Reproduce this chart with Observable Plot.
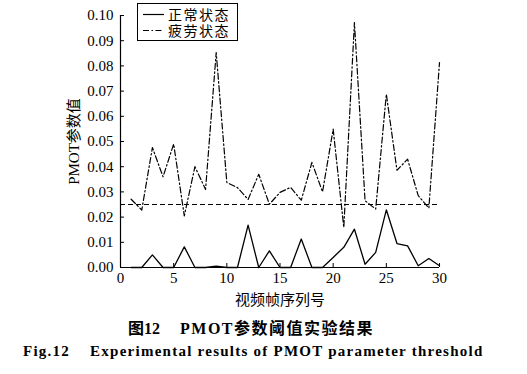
<!DOCTYPE html>
<html><head><meta charset="utf-8">
<script src="https://cdn.jsdelivr.net/npm/d3@7"></script>
<script src="https://cdn.jsdelivr.net/npm/@observablehq/plot@0.6"></script>
<style>
body{margin:0;background:#fff;width:527px;height:374px;position:relative;overflow:hidden}
#chart{position:absolute;left:0;top:0}
#chart svg, #chart svg text{font-family:"Liberation Serif","Noto Sans CJK SC",serif !important}
.legend{position:absolute;left:137px;top:3px;width:101px;height:38px;border:1px solid #000;box-sizing:border-box;background:#fff}
.legend svg{position:absolute;left:0;top:0}
.lt{position:absolute;left:30px;font:14px "Noto Sans CJK SC",sans-serif;line-height:14px;letter-spacing:1.5px;color:#000}
.cap{position:absolute;white-space:nowrap;color:#000;font-weight:bold;font-family:"Liberation Serif","Noto Sans CJK SC",serif}
</style></head>
<body>
<div id="chart"></div>
<div class="legend">
  <svg width="100" height="38">
    <line x1="5" x2="26" y1="10.5" y2="10.5" stroke="#000" stroke-width="1.2"></line>
    <line x1="5" x2="26" y1="26.5" y2="26.5" stroke="#000" stroke-width="1.2" stroke-dasharray="6,2.5,1.5,2.5"></line>
  </svg>
  <div class="lt" id="l1" style="top:3px"></div>
  <div class="lt" id="l2" style="top:19px"></div>
</div>
<div class="cap" id="cap1" style="left:128px;top:315px;font-size:16px"></div>
<div class="cap" id="cap2" style="left:23px;top:343px;font-size:15px;letter-spacing:1.25px"></div>
<script>
const frames = [1,2,3,4,5,6,7,8,9,10,11,12,13,14,15,16,17,18,19,20,21,22,23,24,25,26,27,28,29,30];
const normal = [0,0,0.005,0,0,0.0082,0,0,0.0005,0,0,0.0168,0,0.0066,0,0,0.0113,0,0,0.004,0.008,0.0152,0.0013,0.006,0.0229,0.0095,0.0086,0.0007,0.0036,0.0007];
const fatigue = [0.0271,0.0228,0.0476,0.036,0.049,0.0205,0.040,0.031,0.0853,0.0337,0.0317,0.027,0.037,0.0251,0.0298,0.0318,0.0267,0.0417,0.030,0.0549,0.0159,0.0972,0.0265,0.0232,0.0688,0.0386,0.043,0.0285,0.0236,0.0813];
const threshold = 0.025;
const seriesNames = ["正常状态","疲劳状态"];
const xTicks = [0,5,10,15,20,25,30];
const yTicks = [0,0.01,0.02,0.03,0.04,0.05,0.06,0.07,0.08,0.09,0.10];
const xLabel = "视频帧序列号";
const yLabel = "PMOT参数值";
const caption1a = "图12";
const caption1b = "PMOT参数阈值实验结果";
const caption2a = "Fig.12";
const caption2b = "Experimental results of PMOT parameter threshold";

const normalData = frames.map((f,i)=>({x:f,y:normal[i]}));
const fatigueData = frames.map((f,i)=>({x:f,y:fatigue[i]}));

const chart = Plot.plot({
  width:527, height:310,
  marginLeft:120, marginRight:88, marginTop:15, marginBottom:43,
  style:{fontFamily:'"Liberation Serif","Noto Sans CJK SC",serif', fontSize:"15px", color:"#000", background:"#fff"},
  x:{domain:[0,30]},
  y:{domain:[0,0.1]},
  marks:[
    Plot.axisY({ticks:yTicks, tickFormat:d=>d.toFixed(2), tickSize:-4, tickPadding:11, label:yLabel, labelAnchor:"center", labelOffset:52, labelArrow:"none", fontSize:15}),
    Plot.axisX({ticks:xTicks, tickSize:-4, tickPadding:9, label:xLabel, labelAnchor:"center", labelOffset:37, labelArrow:"none", fontSize:15}),
    Plot.ruleX([0],{stroke:"#000", strokeWidth:1.2}),
    Plot.ruleY([0],{stroke:"#000", strokeWidth:1.2}),
    Plot.ruleY([threshold],{x1:0, x2:30, stroke:"#000", strokeWidth:1.2, strokeDasharray:"5,3"}),
    Plot.line(normalData,{x:"x", y:"y", stroke:"#000", strokeWidth:1.3}),
    Plot.line(fatigueData,{x:"x", y:"y", stroke:"#000", strokeWidth:1.2, strokeDasharray:"6,2.5,1.5,2.5"})
  ]
});
document.getElementById("chart").appendChild(chart);
document.getElementById("l1").textContent = seriesNames[0];
document.getElementById("l2").textContent = seriesNames[1];
document.getElementById("cap1").innerHTML = caption1a + '<span style="margin-left:20px;letter-spacing:1.5px">' + caption1b + '</span>';
document.getElementById("cap2").innerHTML = caption2a + '<span style="margin-left:20px">' + caption2b + '</span>';
</script>
</body></html>
